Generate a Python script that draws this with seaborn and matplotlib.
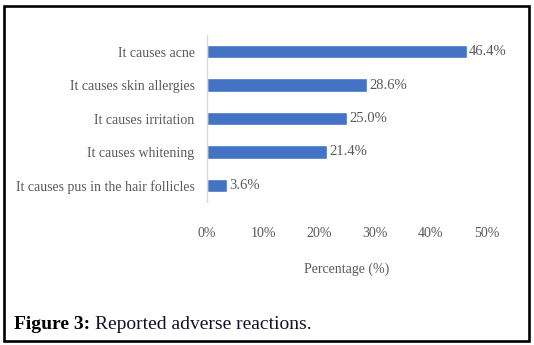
import pandas as pd
import matplotlib
matplotlib.use("Agg")
import matplotlib.pyplot as plt
import seaborn as sns
from matplotlib.patches import Rectangle
from matplotlib.ticker import FuncFormatter

reactions = [
    "It causes acne",
    "It causes skin allergies",
    "It causes irritation",
    "It causes whitening",
    "It causes pus in the hair follicles",
]
percentages = [46.4, 28.6, 25.0, 21.4, 3.6]
x_ticks = [0, 10, 20, 30, 40, 50]

sns.set_style("white")
plt.rcParams["font.family"] = ["Liberation Serif", "DejaVu Serif"]

grey = "#595959"
bar_color = "#4472C4"

W, H = 534, 345
fig = plt.figure(figsize=(W / 100, H / 100), dpi=100)
fig.patch.set_facecolor("white")

# axes placed in pixel terms of the reference
ax = fig.add_axes([207 / W, 1 - 202 / H, 280 / W, 167 / H])

df = pd.DataFrame({"reaction": reactions, "pct": percentages})
sns.barplot(data=df, x="pct", y="reaction", color=bar_color, saturation=1,
            width=0.4, ax=ax)

for c in ax.containers:
    ax.bar_label(c, labels=[f"{v:.1f}%" for v in percentages], padding=1.5,
                 fontsize=10.5, color=grey)

ax.set_xlim(0, 50)
ax.set_ylim(4.5, -0.5)
ax.set_xticks(x_ticks)
ax.xaxis.set_major_formatter(FuncFormatter(lambda v, p: f"{int(v)}%"))
ax.tick_params(axis="x", length=0, pad=18, labelsize=10, labelcolor=grey)
ax.tick_params(axis="y", length=0, pad=9, labelsize=10, labelcolor=grey)
ax.set_ylabel("")
ax.set_xlabel("Percentage (%)", fontsize=10, color=grey, labelpad=16)

for s in ["top", "right", "bottom"]:
    ax.spines[s].set_visible(False)
ax.spines["left"].set_color("#d9d9d9")
ax.spines["left"].set_linewidth(1)
ax.grid(False)

# outer frame
fig.patches.append(Rectangle((3.5 / W, 1 - 341 / H), 525 / W, 335 / H,
                             transform=fig.transFigure, fill=False,
                             edgecolor="black", linewidth=1.9))

# caption: bold lead + normal text
t1 = fig.text(14 / W, 1 - 329 / H, "Figure 3:", fontsize=14, fontweight="bold",
              color="black", va="baseline")
fig.canvas.draw()
bb = t1.get_window_extent()
fig.text((bb.x1 + 5) / W, 1 - 329 / H, "Reported adverse reactions.",
         fontsize=14, color="#111122", va="baseline")

fig.savefig("out.png", dpi=100)
